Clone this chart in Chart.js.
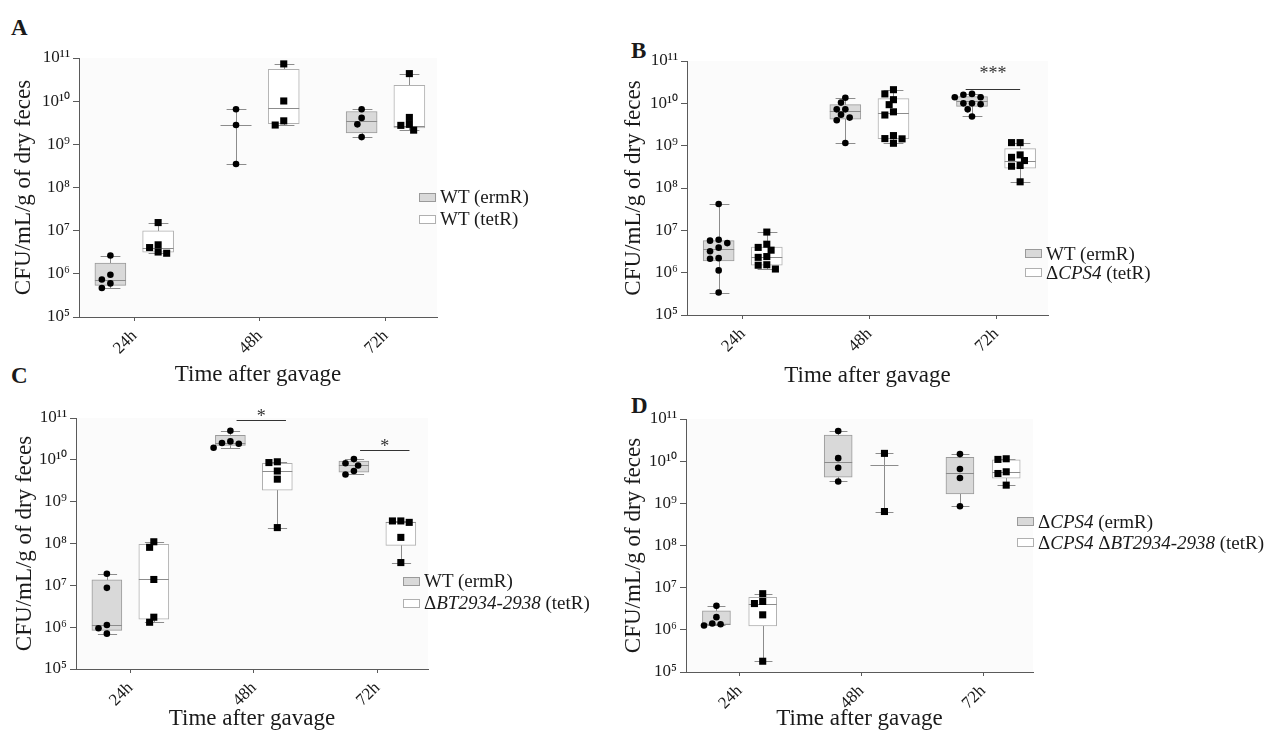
<!DOCTYPE html>
<html>
<head>
<meta charset="utf-8">
<script src="https://cdn.jsdelivr.net/npm/chart.js@4.4.0/dist/chart.umd.min.js"></script>
<style>
  body { margin: 0; background: #fff; width: 1274px; height: 733px; position: relative; overflow: hidden;
         font-family: "Liberation Serif", "Times New Roman", serif; color: #1a1a1a; }
  canvas { position: absolute; }
  .letter { position: absolute; font-weight: bold; font-size: 23px; line-height: 1; }
  .legend { position: absolute; font-size: 19px; white-space: nowrap; }
  .legend div { display: flex; align-items: center; }
  .sw { display: inline-block; width: 15px; height: 7px; border: 1px solid #9a9a9a; margin-right: 4px; }
  .sw.erm { background: #d9d9d9; }
  .sw.tet { background: #fff; border-color: #b0b0b0; }
</style>
</head>
<body>
<div class="letter" style="left:11px;top:16px">A</div>
<div class="letter" style="left:631px;top:39px">B</div>
<div class="letter" style="left:11px;top:364px">C</div>
<div class="letter" style="left:631px;top:394px">D</div>

<canvas id="chartA" width="445" height="355" style="left:0;top:40px"></canvas>
<canvas id="chartB" width="440" height="355" style="left:620px;top:40px"></canvas>
<canvas id="chartC" width="440" height="338" style="left:0;top:395px"></canvas>
<canvas id="chartD" width="430" height="338" style="left:620px;top:395px"></canvas>

<div class="legend" style="left:419px;top:186px;line-height:22px">
  <div><span class="sw erm"></span>WT (ermR)</div>
  <div><span class="sw tet"></span>WT (tetR)</div>
</div>
<div class="legend" style="left:1025px;top:244px;line-height:19px">
  <div><span class="sw erm"></span>WT (ermR)</div>
  <div><span class="sw tet"></span>Δ<i>CPS4</i>&nbsp;(tetR)</div>
</div>
<div class="legend" style="left:403px;top:570px;line-height:22px">
  <div><span class="sw erm"></span>WT (ermR)</div>
  <div><span class="sw tet"></span>Δ<i>BT2934-2938</i>&nbsp;(tetR)</div>
</div>
<div class="legend" style="left:1017px;top:511px;line-height:21px">
  <div><span class="sw erm"></span>Δ<i>CPS4</i>&nbsp;(ermR)</div>
  <div><span class="sw tet"></span>Δ<i>CPS4</i>&nbsp;Δ<i>BT2934-2938</i>&nbsp;(tetR)</div>
</div>

<script>
// Time points on the x axis
const timeLabels = ['24h', '48h', '72h'];
const decades = [1e5, 1e6, 1e7, 1e8, 1e9, 1e10, 1e11];

// ---- Panel A: WT (ermR) vs WT (tetR)
const aErmPoints = [[2.65e6, 9.5e5, 7.4e5, 6.0e5, 4.7e5], [6.5e9, 2.8e9, 3.5e8], [6.5e9, 4.1e9, 2.9e9, 1.47e9]];
const aErmBox = [[5.4e5, 1.77e6], null, [1.85e9, 5.75e9]];
const aErmMedian = [7.3e5, 2.8e9, 3.5e9];
const aErmWhisker = [[4.7e5, 2.65e6], [3.5e8, 6.5e9], [1.47e9, 6.5e9]];
const aTetPoints = [[1.54e7, 4.7e6, 4.06e6, 3.2e6, 3.0e6], [7.3e10, 1.01e10, 3.5e9, 2.8e9], [4.35e10, 4.2e9, 2.9e9, 2.75e9, 2.13e9]];
const aTetBox = [[3.17e6, 9.9e6], [3.03e9, 5.5e10], [2.41e9, 2.33e10]];
const aTetMedian = [3.9e6, 6.9e9, 2.63e9];
const aTetWhisker = [[3.0e6, 1.54e7], [2.8e9, 7.3e10], [2.13e9, 4.35e10]];

// ---- Panel B: WT (ermR) vs dCPS4 (tetR)
const bErmPoints = [
  [4.2e7, 6.0e6, 5.7e6, 5.0e6, 3.9e6, 3.2e6, 2.2e6, 2.13e6, 1.13e6, 3.4e5],
  [1.36e10, 1.04e10, 7.2e9, 7.2e9, 5.4e9, 4.6e9, 4.0e9, 1.16e9],
  [1.67e10, 1.6e10, 1.39e10, 1.39e10, 1.0e10, 1.0e10, 9.5e9, 7.2e9, 4.9e9]
];
const bErmBox = [[1.9e6, 5.7e6], [4.2e9, 9.3e9], [8.5e9, 1.44e10]];
const bErmMedian = [3.6e6, 6.5e9, 1.12e10];
const bErmWhisker = [[3.4e5, 4.2e7], [1.16e9, 1.36e10], [4.9e9, 1.67e10]];
const bTetPoints = [
  [9.1e6, 4.7e6, 3.95e6, 3.4e6, 2.4e6, 2.3e6, 1.54e6, 1.5e6, 1.22e6],
  [2.1e10, 1.67e10, 1.22e10, 9.3e9, 6.3e9, 5.3e9, 1.73e9, 1.47e9, 1.45e9, 1.14e9],
  [1.18e9, 1.18e9, 6.05e8, 5.3e8, 4.45e8, 3.4e8, 3.27e8, 1.4e8]
];
const bTetBox = [[1.51e6, 4.0e6], [1.47e9, 1.29e10], [2.94e8, 8.55e8]];
const bTetMedian = [2.3e6, 5.9e9, 4.45e8];
const bTetWhisker = [[1.22e6, 9.1e6], [1.14e9, 2.1e10], [1.4e8, 1.18e9]];
const bSigTime = [2];
const bSigLine = [2.2e10];
const bSigText = [4.8e10];
const bSigLabel = ['***'];

// ---- Panel C: WT (ermR) vs dBT2934-2938 (tetR)
const cErmPoints = [[1.89e7, 8.7e6, 1.13e6, 9.4e5, 7.0e5], [4.97e10, 2.76e10, 2.52e10, 2.43e10, 1.95e10], [1.04e10, 8.3e9, 7.3e9, 5.4e9, 4.47e9]];
const cErmBox = [[8.4e5, 1.36e7], [2.21e10, 3.85e10], [5.1e9, 9.3e9]];
const cErmMedian = [1.13e6, 2.5e10, 7.5e9];
const cErmWhisker = [[7.0e5, 1.89e7], [1.95e10, 4.97e10], [4.47e9, 1.04e10]];
const cTetPoints = [[1.1e8, 8.1e7, 1.38e7, 1.73e6, 1.31e6], [8.98e9, 8.6e9, 5.4e9, 3.45e9, 2.4e8], [3.46e8, 3.46e8, 3.2e8, 1.4e8, 3.5e7]];
const cTetBox = [[1.55e6, 9.5e7], [1.88e9, 8.3e9], [9.0e7, 3.27e8]];
const cTetMedian = [1.38e7, 5.4e9, 3.3e8];
const cTetWhisker = [[1.31e6, 1.1e8], [2.4e8, 8.98e9], [3.5e7, 3.46e8]];
const cSigTime = [1, 2];
const cSigLine = [9.1e10, 1.74e10];
const cSigText = [1.07e11, 2.04e10];
const cSigLabel = ['*', '*'];

// ---- Panel D: dCPS4 (ermR) vs dCPS4 dBT2934-2938 (tetR)
const dErmPoints = [[3.7e6, 2.0e6, 1.41e6, 1.36e6, 1.27e6], [5.2e10, 1.18e10, 6.97e9, 3.3e9], [1.47e10, 6.5e9, 4.0e9, 8.5e8]];
const dErmBox = [[1.35e6, 2.83e6], [4.18e9, 4.17e10], [1.68e9, 1.23e10]];
const dErmMedian = [1.4e6, 9.5e9, 5.2e9];
const dErmWhisker = [[1.27e6, 3.7e6], [3.3e9, 5.2e10], [8.5e8, 1.47e10]];
const dTetPoints = [[7.2e6, 4.7e6, 4.2e6, 2.27e6, 1.8e5], [1.53e10, 6.4e8], [1.14e10, 1.1e10, 5.6e9, 5.1e9, 2.7e9]];
const dTetBox = [[1.24e6, 5.9e6], null, [3.95e9, 1.08e10]];
const dTetMedian = [4.2e6, 7.9e9, 5.6e9];
const dTetWhisker = [[1.8e5, 7.2e6], [6.4e8, 1.53e10], [2.7e9, 1.14e10]];

const SERIF = '"Liberation Serif", "Times New Roman", serif';
const TEXT = '#1a1a1a';
const AXIS = '#5a5a5a';
const BOX_OFF = 0.19;          // half distance between the two boxes, in x units
const SWARM_STEP = 0.034;      // horizontal spread of overlapping dots
const SUP = { '0': '⁰', '1': '¹', '2': '²', '3': '³', '4': '⁴', '5': '⁵', '6': '⁶', '7': '⁷', '8': '⁸', '9': '⁹' };

function powerLabel(v) {
  const e = Math.round(Math.log10(v));
  return '10' + String(e).split('').map(c => SUP[c]).join('');
}

// spread dots that would sit on top of each other (approx. 42px per decade, 4.3px per step)
function swarm(values) {
  const placed = [];
  return values.map(v => {
    const ly = Math.log10(v) * 42;
    for (const k of [0, -1, 1, -2, 2, -3, 3, -4, 4, -5, 5]) {
      if (placed.every(p => Math.hypot((p.k - k) * 4.3, p.ly - ly) >= 6.5)) {
        placed.push({ k, ly });
        return k * SWARM_STEP;
      }
    }
    placed.push({ k: 0, ly });
    return 0;
  });
}

function pointData(groups, center) {
  const out = [];
  groups.forEach((vals, i) => {
    const offs = swarm(vals);
    vals.forEach((v, j) => out.push({ x: i + center + offs[j], y: v }));
  });
  return out;
}

function boxData(boxes, center) {
  const out = [];
  boxes.forEach((b, i) => { if (b) out.push({ x: i + center, y: b }); });
  return out;
}

const panels = {
  chartA: {
    erm: { points: aErmPoints, box: aErmBox, median: aErmMedian, whisker: aErmWhisker },
    tet: { points: aTetPoints, box: aTetBox, median: aTetMedian, whisker: aTetWhisker },
    sig: null, barPx: 31, yW: 79, xH: 78, pad: { top: 18, right: 8, left: 0, bottom: 0 }, yTitlePad: 10, xTitlePad: 6
  },
  chartB: {
    erm: { points: bErmPoints, box: bErmBox, median: bErmMedian, whisker: bErmWhisker },
    tet: { points: bTetPoints, box: bTetBox, median: bTetMedian, whisker: bTetWhisker },
    sig: { time: bSigTime, line: bSigLine, text: bSigText, label: bSigLabel, span: [-0.24, 0.19], size: 18 },
    barPx: 31, yW: 67, xH: 80, pad: { top: 21, right: 12, left: 0, bottom: 0 }, yTitlePad: 0, xTitlePad: 5
  },
  chartC: {
    erm: { points: cErmPoints, box: cErmBox, median: cErmMedian, whisker: cErmWhisker },
    tet: { points: cTetPoints, box: cTetBox, median: cTetMedian, whisker: cTetWhisker },
    sig: { time: cSigTime, line: cSigLine, text: cSigText, label: cSigLabel, span: [-0.14, 0.26], size: 18 },
    barPx: 30, yW: 76, xH: 64, pad: { top: 23, right: 12, left: 0, bottom: 0 }, yTitlePad: 11, xTitlePad: 0
  },
  chartD: {
    erm: { points: dErmPoints, box: dErmBox, median: dErmMedian, whisker: dErmWhisker },
    tet: { points: dTetPoints, box: dTetBox, median: dTetMedian, whisker: dTetWhisker },
    sig: null, barPx: 28, yW: 66, xH: 61, pad: { top: 24, right: 17, left: 0, bottom: 0 }, yTitlePad: 0, xTitlePad: 0
  }
};

// whiskers, medians, plot background and significance bars
const boxParts = {
  id: 'boxParts',
  beforeDraw(chart) {
    const a = chart.chartArea;
    chart.ctx.save();
    chart.ctx.fillStyle = '#fbfbfb';
    chart.ctx.fillRect(a.left, a.top, a.right - a.left, a.bottom - a.top);
    chart.ctx.restore();
  },
  beforeDatasetsDraw(chart) {
    const p = panels[chart.canvas.id];
    const { x, y } = chart.scales;
    const ctx = chart.ctx;
    const cap = p.barPx * 0.32;
    ctx.save();
    ctx.strokeStyle = '#8c8c8c';
    ctx.lineWidth = 1;
    [[p.erm, -BOX_OFF], [p.tet, BOX_OFF]].forEach(([g, c]) => {
      g.whisker.forEach(([lo, hi], i) => {
        const px = Math.round(x.getPixelForValue(i + c)) + 0.5;
        const y0 = Math.round(y.getPixelForValue(lo)) + 0.5;
        const y1 = Math.round(y.getPixelForValue(hi)) + 0.5;
        ctx.beginPath();
        ctx.moveTo(px, y0); ctx.lineTo(px, y1);
        ctx.moveTo(px - cap, y0); ctx.lineTo(px + cap, y0);
        ctx.moveTo(px - cap, y1); ctx.lineTo(px + cap, y1);
        ctx.stroke();
      });
    });
    ctx.restore();
  },
  afterDatasetDraw(chart, args) {
    if (args.index !== 0) return;
    const p = panels[chart.canvas.id];
    const { x, y } = chart.scales;
    const ctx = chart.ctx;
    const half = p.barPx / 2;
    ctx.save();
    ctx.strokeStyle = '#8c8c8c';
    ctx.lineWidth = 1;
    [[p.erm, -BOX_OFF], [p.tet, BOX_OFF]].forEach(([g, c]) => {
      g.median.forEach((m, i) => {
        const px = x.getPixelForValue(i + c);
        const py = Math.round(y.getPixelForValue(m)) + 0.5;
        ctx.beginPath();
        ctx.moveTo(px - half, py); ctx.lineTo(px + half, py);
        ctx.stroke();
      });
    });
    ctx.restore();
  },
  afterDraw(chart) {
    const p = panels[chart.canvas.id];
    if (!p.sig) return;
    const { x, y } = chart.scales;
    const ctx = chart.ctx;
    const s = p.sig;
    ctx.save();
    ctx.strokeStyle = '#333';
    ctx.fillStyle = '#333';
    ctx.lineWidth = 1.2;
    ctx.font = s.size + 'px ' + SERIF;
    ctx.textAlign = 'center';
    ctx.textBaseline = 'middle';
    s.time.forEach((t, i) => {
      const x0 = x.getPixelForValue(t + s.span[0]);
      const x1 = x.getPixelForValue(t + s.span[1]);
      const ly = Math.round(y.getPixelForValue(s.line[i])) + 0.5;
      ctx.beginPath(); ctx.moveTo(x0, ly); ctx.lineTo(x1, ly); ctx.stroke();
      ctx.fillText(s.label[i], (x0 + x1) / 2, y.getPixelForValue(s.text[i]));
    });
    ctx.restore();
  }
};

function makeChart(id) {
  const p = panels[id];
  const ctx = document.getElementById(id).getContext('2d');
  return new Chart(ctx, {
    type: 'bar',
    data: {
      datasets: [
        { type: 'bar', data: boxData(p.erm.box, -BOX_OFF), backgroundColor: '#d9d9d9', borderColor: '#9a9a9a',
          borderWidth: 1, borderSkipped: false, barThickness: p.barPx, grouped: false, order: 2 },
        { type: 'bar', data: boxData(p.tet.box, BOX_OFF), backgroundColor: '#ffffff', borderColor: '#b0b0b0',
          borderWidth: 1, borderSkipped: false, barThickness: p.barPx, grouped: false, order: 2 },
        { type: 'scatter', data: pointData(p.erm.points, -BOX_OFF), pointStyle: 'circle', radius: 3.3,
          backgroundColor: '#000', borderWidth: 0, order: 1 },
        { type: 'scatter', data: pointData(p.tet.points, BOX_OFF), pointStyle: 'rect', radius: 5,
          backgroundColor: '#000', borderWidth: 0, order: 1 }
      ]
    },
    options: {
      responsive: false,
      animation: false,
      devicePixelRatio: 1,
      layout: { padding: p.pad },
      plugins: { legend: { display: false }, tooltip: { enabled: false } },
      scales: {
        x: {
          type: 'linear',
          offset: false,
          min: -0.44,
          max: 2.41,
          afterBuildTicks: s => { s.ticks = [0, 1, 2].map(v => ({ value: v })); },
          afterFit: s => { s.height = p.xH; },
          ticks: { callback: v => timeLabels[v], minRotation: 45, maxRotation: 45, autoSkip: false,
                   padding: 5, color: TEXT, font: { family: SERIF, size: 17 } },
          grid: { display: true, offset: false, drawOnChartArea: false, drawTicks: true, tickLength: 4, color: AXIS },
          border: { display: true, color: AXIS, width: 1 },
          title: { display: true, text: 'Time after gavage', color: TEXT,
                   font: { family: SERIF, size: 23 }, padding: { top: 0, bottom: p.xTitlePad } }
        },
        y: {
          type: 'logarithmic',
          min: 1e5,
          max: 1e11,
          afterBuildTicks: s => { s.ticks = decades.map(v => ({ value: v })); },
          afterFit: s => { s.width = p.yW; },
          ticks: { callback: v => powerLabel(v), autoSkip: false, padding: 3, color: TEXT,
                   font: { family: SERIF, size: 17 } },
          grid: { display: true, drawOnChartArea: false, drawTicks: true, tickLength: 6, color: AXIS },
          border: { display: true, color: AXIS, width: 1 },
          title: { display: true, text: 'CFU/mL/g of dry feces', color: TEXT,
                   font: { family: SERIF, size: 23 }, padding: { top: p.yTitlePad, bottom: 0 } }
        }
      }
    },
    plugins: [boxParts]
  });
}

['chartA', 'chartB', 'chartC', 'chartD'].forEach(makeChart);
</script>
</body>
</html>
